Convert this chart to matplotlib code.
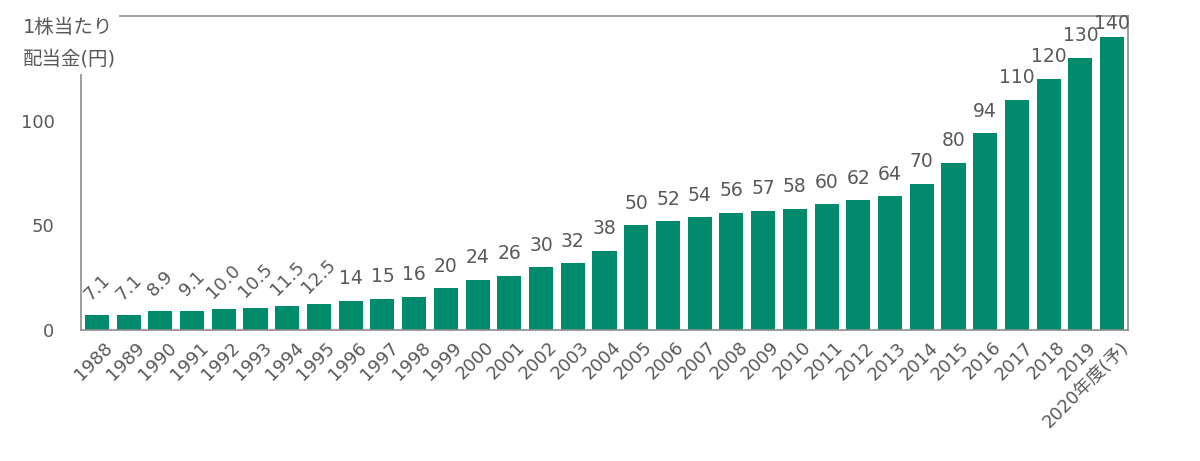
import matplotlib
matplotlib.use("Agg")
import matplotlib.pyplot as plt
from matplotlib.transforms import ScaledTranslation

plt.rcParams['font.family'] = ['DejaVu Sans', 'Noto Sans CJK JP']

years = ['1988', '1989', '1990', '1991', '1992', '1993', '1994', '1995', '1996',
         '1997', '1998', '1999', '2000', '2001', '2002', '2003', '2004', '2005',
         '2006', '2007', '2008', '2009', '2010', '2011', '2012', '2013', '2014',
         '2015', '2016', '2017', '2018', '2019', '2020年度(予)']
dividends = [7.1, 7.1, 8.9, 9.1, 10.0, 10.5, 11.5, 12.5, 14, 15, 16, 20, 24, 26,
             30, 32, 38, 50, 52, 54, 56, 57, 58, 60, 62, 64, 70, 80, 94, 110,
             120, 130, 140]
labels = ['7.1', '7.1', '8.9', '9.1', '10.0', '10.5', '11.5', '12.5'] + \
         [str(int(v)) for v in dividends[8:]]

bar_color = '#008B6C'
text_color = '#595959'
spine_color = '#8C8C8C'

fig = plt.figure(figsize=(12, 4.61), dpi=100)
ax = fig.add_axes([0.0675, 0.284, 0.8725, 0.681])

x = list(range(len(years)))
ax.bar(x, dividends, width=0.76, color=bar_color, zorder=2)

ax.set_xlim(-0.5, len(years) - 0.5)
ax.set_ylim(0, 150)
ax.set_yticks([0, 50, 100])
ax.tick_params(axis='y', length=0, pad=19, labelsize=13, labelcolor=text_color)
ax.tick_params(axis='x', length=0, pad=6, labelsize=13, labelcolor=text_color)
ax.set_xticks(x)
ax.set_xticklabels(years, rotation=45, ha='right', rotation_mode='anchor')
shift = ScaledTranslation(5 / 72, 0, fig.dpi_scale_trans)
for t in ax.get_xticklabels():
    t.set_transform(t.get_transform() + shift)

for side in ['left', 'right', 'top', 'bottom']:
    ax.spines[side].set_color(spine_color)
    ax.spines[side].set_linewidth(1.2)
ax.spines['left'].set_bounds(0, 122)
ax.spines['top'].set_bounds(0.73, len(years) - 0.5)

# value labels (kept inside the frame like Excel does)
for i, (v, lab) in enumerate(zip(dividends, labels)):
    if i < 8:
        ax.annotate(lab, (i, v), xytext=(0, 20), textcoords='offset points',
                    ha='center', va='center', rotation=45, fontsize=13,
                    color=text_color)
    else:
        off = 9 if v < 135 else 3
        ax.annotate(lab, (i, v), xytext=(0, off), textcoords='offset points',
                    ha='center', va='bottom', fontsize=13.5, color=text_color)

fig.text(0.019, 0.94, '1株当たり', fontsize=14, color=text_color, va='center')
fig.text(0.019, 0.873, '配当金(円)', fontsize=14, color=text_color, va='center')

plt.savefig('out.png', dpi=100)
